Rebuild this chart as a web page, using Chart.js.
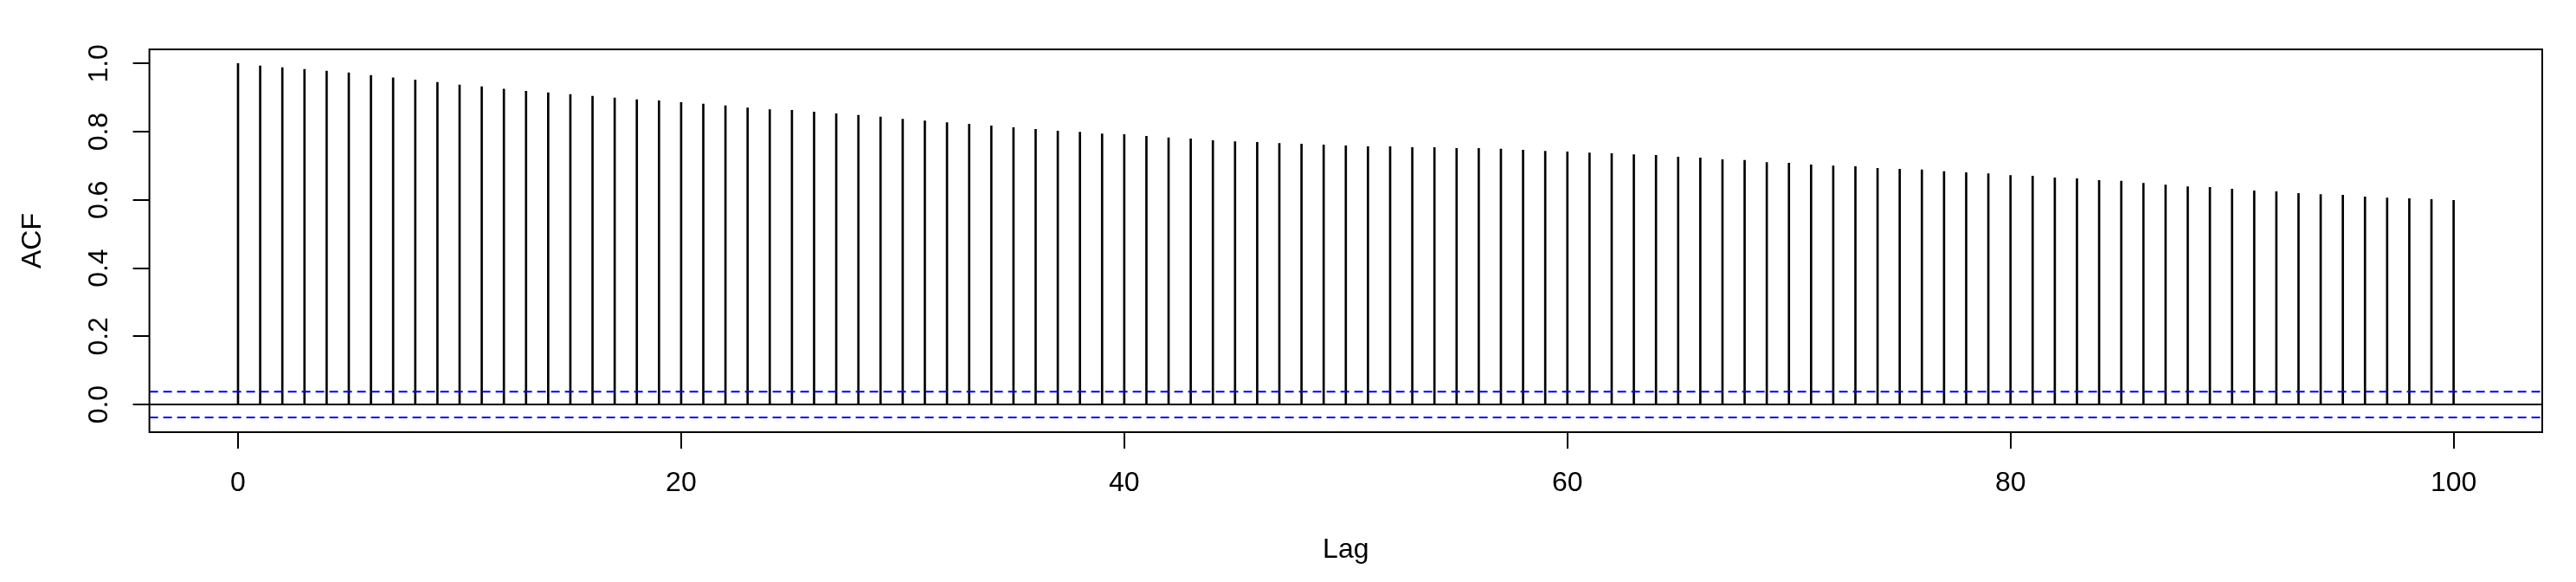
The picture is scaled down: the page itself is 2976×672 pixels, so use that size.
<!DOCTYPE html>
<html>
<head>
<meta charset="utf-8">
<title>ACF</title>
<script src="https://cdn.jsdelivr.net/npm/chart.js@4.4.1/dist/chart.umd.min.js"></script>
<style>
  html, body { margin: 0; padding: 0; background: #ffffff; }
  #acfChart { display: block; }
</style>
</head>
<body>
<canvas id="acfChart" width="2976" height="672"></canvas>
<script>
// autocorrelation at lags 0..100
const acfValues = [
  1.000, 0.993, 0.988, 0.983, 0.978, 0.973, 0.965, 0.958, 0.952, 0.945,
  0.937, 0.932, 0.925, 0.919, 0.914, 0.909, 0.904, 0.899, 0.894, 0.891,
  0.886, 0.881, 0.876, 0.870, 0.865, 0.863, 0.858, 0.853, 0.848, 0.843,
  0.837, 0.832, 0.827, 0.822, 0.817, 0.812, 0.807, 0.802, 0.799, 0.794,
  0.792, 0.787, 0.782, 0.779, 0.774, 0.771, 0.769, 0.766, 0.764, 0.761,
  0.759, 0.756, 0.756, 0.754, 0.754, 0.751, 0.751, 0.749, 0.746, 0.743,
  0.741, 0.738, 0.736, 0.733, 0.731, 0.726, 0.723, 0.718, 0.716, 0.710,
  0.708, 0.703, 0.700, 0.698, 0.693, 0.690, 0.688, 0.683, 0.680, 0.677,
  0.672, 0.670, 0.665, 0.662, 0.657, 0.655, 0.649, 0.644, 0.639, 0.637,
  0.632, 0.627, 0.624, 0.619, 0.616, 0.614, 0.609, 0.606, 0.604, 0.601,
  0.599
];
const lags = acfValues.map((v, i) => i);

// confidence bound (dashed blue lines)
const ciUpper = 0.038;
const ciLower = -0.038;

const xTicks = [0, 20, 40, 60, 80, 100];
const yTicks = [0.0, 0.2, 0.4, 0.6, 0.8, 1.0];
const xRange = [-4, 104];
const yRange = [-0.081, 1.0415];

const xLabel = "Lag";
const yLabel = "ACF";

const FONT = { family: "'Liberation Sans', Arial, sans-serif", size: 32 };

window.addEventListener("DOMContentLoaded", () => {
  drawAcf();
});

function hLine(y) {
  return [{ x: xRange[0], y }, { x: xRange[1], y }];
}

function drawAcf() {
  const points = lags.map((lag, i) => ({ x: lag, y: acfValues[i] }));

  // R style box around the plot region
  const boxPlugin = {
    id: "box",
    afterDraw(chart) {
      const { ctx, chartArea } = chart;
      ctx.save();
      ctx.strokeStyle = "#000";
      ctx.lineWidth = 2;
      ctx.strokeRect(chartArea.left, chartArea.top,
        chartArea.right - chartArea.left, chartArea.bottom - chartArea.top);
      ctx.restore();
    }
  };

  const ctx = document.getElementById("acfChart").getContext("2d");
  new Chart(ctx, {
    data: {
      datasets: [
        {
          type: "line",
          data: hLine(ciUpper),
          borderColor: "#0000ff",
          borderWidth: 2,
          borderDash: [10, 6],
          pointRadius: 0,
          order: 1
        },
        {
          type: "line",
          data: hLine(ciLower),
          borderColor: "#0000ff",
          borderWidth: 2,
          borderDash: [10, 6],
          pointRadius: 0,
          order: 1
        },
        {
          type: "line",
          data: hLine(0),
          borderColor: "#000",
          borderWidth: 2,
          pointRadius: 0,
          order: 2
        },
        {
          type: "bar",
          data: points,
          backgroundColor: "#000",
          barThickness: 2,
          order: 3
        }
      ]
    },
    options: {
      responsive: false,
      animation: false,
      layout: { padding: { top: 57, right: 39, left: 0, bottom: 0 } },
      plugins: {
        legend: { display: false },
        tooltip: { enabled: false }
      },
      scales: {
        x: {
          type: "linear",
          offset: false,
          min: xRange[0],
          max: xRange[1],
          afterBuildTicks: scale => { scale.ticks = xTicks.map(v => ({ value: v })); },
          afterFit: scale => { scale.height = 173; },
          grid: { offset: false, drawOnChartArea: false, drawTicks: true, tickLength: 19, color: "#000", lineWidth: 2 },
          border: { display: false },
          ticks: {
            color: "#000",
            font: FONT,
            padding: 21,
            maxRotation: 0,
            autoSkip: false,
            callback: v => String(v)
          },
          title: {
            display: true,
            text: xLabel,
            color: "#000",
            font: FONT,
            padding: { top: 0, bottom: 18 }
          }
        },
        y: {
          type: "linear",
          min: yRange[0],
          max: yRange[1],
          afterBuildTicks: scale => { scale.ticks = yTicks.map(v => ({ value: v })); },
          afterFit: scale => { scale.width = 172.6; },
          grid: { drawOnChartArea: false, drawTicks: true, tickLength: 19, color: "#000", lineWidth: 2 },
          border: { display: false },
          ticks: {
            color: "#000",
            font: FONT,
            padding: 16,
            minRotation: 90,
            maxRotation: 90,
            crossAlign: "center",
            autoSkip: false,
            callback: v => v.toFixed(1)
          },
          title: {
            display: true,
            text: yLabel,
            color: "#000",
            font: FONT,
            padding: { top: 19, bottom: 0 }
          }
        }
      }
    },
    plugins: [boxPlugin]
  });
}
</script>
</body>
</html>
